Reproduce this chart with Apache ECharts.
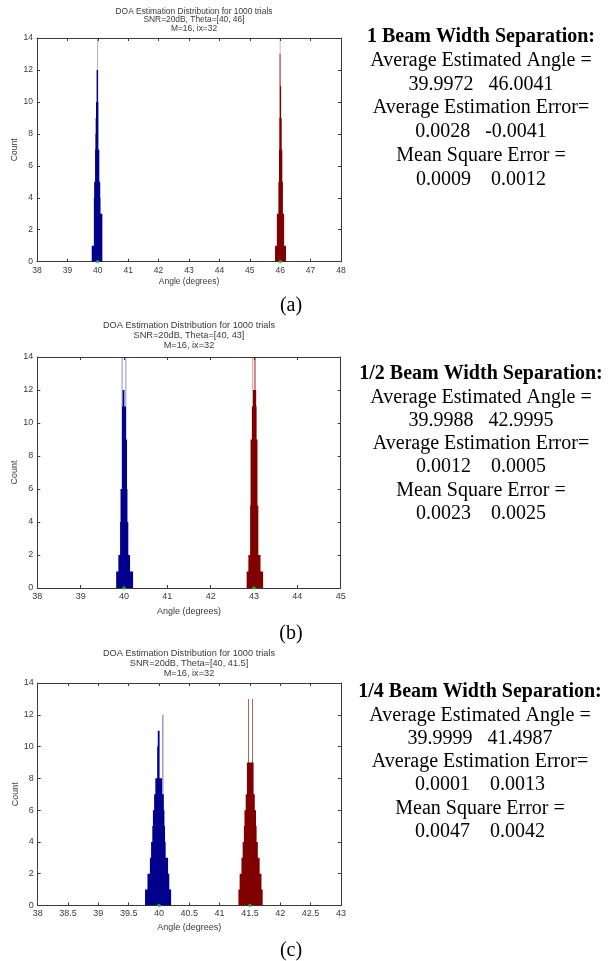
<!DOCTYPE html>
<html><head><meta charset="utf-8">
<script src="https://cdn.jsdelivr.net/npm/echarts@6/dist/echarts.min.js"></script>
<style>html,body{margin:0;padding:0;background:#fff;}#c{width:610px;height:961px;}</style>
</head><body><div id="c"></div>
<script>
// ---------- data ----------
const binWidth = 0.01;

// panel (a): Theta = [40, 46]
const aXRange = [38, 48, 1];
const aTheta = [40, 46];
const aBlueStart = 39.80;
const aBlueCounts = [1,1,1,1,1,1,1,4,5,5,5,7,8,9,10,10,12,12,12,20,12,10,7,7,7,5,5,5,4,3,3,3,3,3,3];
const aRedStart = 45.83;
const aRedCounts = [1,1,1,1,1,1,3,3,3,3,3,5,5,7,9,13,18,13,11,11,9,9,7,7,5,5,3,3,3,3,1,1,1,1,1,1];

// panel (b): Theta = [40, 43]
const bXRange = [38, 45, 1];
const bTheta = [40, 43];
const bBlueStart = 39.82;
const bBlueCounts = [1,1,1,1,1,2,2,2,2,4,6,6,6,16,11,12,12,12,12,11,11,11,16,9,9,6,4,4,2,2,2,2,1,1,1,1,1,1,1];
const bRedStart = 42.83;
const bRedCounts = [1,1,1,1,2,2,2,2,5,9,9,9,11,11,15,12,12,16,12,12,15,12,11,9,9,5,5,2,2,2,2,2,1,1,1,1,1,1];

// panel (c): Theta = [40, 41.5]
const cXRange = [38, 43, 0.5];
const cTheta = [40, 41.5];
const cBlueStart = 39.77;
const cBlueCounts = [1,1,1,1,2,2,2,2,3,3,4,4,5,6,6,7,7,8,8,8,10,11,11,11,8,8,8,8,7,12,7,6,5,4,3,3,3,3,2,2,1,1,1];
const cRedStart = 41.31;
const cRedCounts = [1,1,2,2,2,3,3,4,4,5,6,6,7,7,9,9,13,9,9,9,9,9,9,13,9,7,7,6,6,5,4,4,3,3,3,2,2,2,1,1];

const yRange = [0, 14, 2];

const chartTitles = [
  ['DOA Estimation Distribution for 1000 trials', 'SNR=20dB, Theta=[40, 46]', 'M=16, ix=32'],
  ['DOA Estimation Distribution for 1000 trials', 'SNR=20dB, Theta=[40, 43]', 'M=16, ix=32'],
  ['DOA Estimation Distribution for 1000 trials', 'SNR=20dB, Theta=[40, 41.5]', 'M=16, ix=32']
];
const panelLetters = ['(a)', '(b)', '(c)'];
const statHeadings = ['1 Beam Width Separation:', '1/2 Beam Width Separation:', '1/4 Beam Width Separation:'];
const statLines = [
  ['Average Estimated Angle =', '39.9972   46.0041', 'Average Estimation Error=', '0.0028   -0.0041', 'Mean Square Error =', '0.0009    0.0012'],
  ['Average Estimated Angle =', '39.9988   42.9995', 'Average Estimation Error=', '0.0012    0.0005', 'Mean Square Error =', '0.0023    0.0025'],
  ['Average Estimated Angle =', '39.9999   41.4987', 'Average Estimation Error=', '0.0001    0.0013', 'Mean Square Error =', '0.0047    0.0042']
];

// ---------- layout ----------
const panels = [
  {grid:{left:37, top:38, width:304, height:223.7}, xr:aXRange, theta:aTheta,
   blue:[aBlueStart,aBlueCounts], red:[aRedStart,aRedCounts], fs:8.5, nameGapX:15, nameGapY:12,
   titleX:194, titleY:[11.7,20,28.3], titleFs:8.4, letterY:306, statX:481, statY0:36.5, statDy:23.9},
  {grid:{left:37.3, top:357, width:303.4, height:231}, xr:bXRange, theta:bTheta,
   blue:[bBlueStart,bBlueCounts], red:[bRedStart,bRedCounts], fs:9, nameGapX:19, nameGapY:17,
   titleX:189, titleY:[325,335,345], titleFs:9.2, letterY:634, statX:481, statY0:374, statDy:23.3},
  {grid:{left:37.7, top:683, width:303.2, height:222.5}, xr:cXRange, theta:cTheta,
   blue:[cBlueStart,cBlueCounts], red:[cRedStart,cRedCounts], fs:9, nameGapX:18, nameGapY:17,
   titleX:189, titleY:[653.3,663.3,673.3], titleFs:9.2, letterY:951, statX:480, statY0:692, statDy:23.3}
];

const axisColor = '#3a3a3a';
const textColor = '#3a3a3a';
const sans = 'Liberation Sans, Arial, sans-serif';
const serif = 'Liberation Serif, Times New Roman, serif';
const blueColor = '#00008c';
const redColor = '#800000';

function binRows(start, counts) {
  return counts.map((c, i) => [start + i * binWidth, start + (i + 1) * binWidth, c]);
}

function renderEnvelope(params, api) {
  if (params.dataIndexInside !== 0) return null;
  const n = params.dataInsideLength;
  const pts = [];
  pts.push(api.coord([api.value(0, 0), 0]));
  for (let j = 0; j < n; j++) {
    const x0 = api.value(0, j), x1 = api.value(1, j), c = api.value(2, j);
    pts.push(api.coord([x0, c]));
    pts.push(api.coord([x1, c]));
  }
  pts.push(api.coord([api.value(1, n - 1), 0]));
  return {type:'polygon', shape:{points:pts}, style:{fill:api.visual('color'), stroke:null}};
}

const grids = [], xAxes = [], yAxes = [], series = [], graphics = [];

panels.forEach((p, g) => {
  grids.push(Object.assign({containLabel:false}, p.grid));
  const common = {
    gridIndex:g, type:'value',
    axisLine:{show:true, onZero:false, lineStyle:{color:axisColor, width:1}},
    axisTick:{show:true, inside:true, length:3, lineStyle:{color:axisColor, width:1}},
    splitLine:{show:false}
  };
  xAxes.push(Object.assign({}, common, {
    position:'bottom', min:p.xr[0], max:p.xr[1], interval:p.xr[2],
    axisLabel:{show:true, color:textColor, fontFamily:sans, fontSize:p.fs, margin:4},
    name:'Angle (degrees)', nameLocation:'middle', nameGap:p.nameGapX,
    nameTextStyle:{color:textColor, fontFamily:sans, fontSize:p.fs}
  }));
  xAxes.push(Object.assign({}, common, {
    position:'top', min:p.xr[0], max:p.xr[1], interval:p.xr[2], axisLabel:{show:false}
  }));
  yAxes.push(Object.assign({}, common, {
    position:'left', min:yRange[0], max:yRange[1], interval:yRange[2],
    axisLabel:{show:true, color:textColor, fontFamily:sans, fontSize:p.fs, margin:4},
    name:'Count', nameLocation:'middle', nameGap:p.nameGapY,
    nameTextStyle:{color:textColor, fontFamily:sans, fontSize:p.fs}
  }));
  yAxes.push(Object.assign({}, common, {
    position:'right', min:yRange[0], max:yRange[1], interval:yRange[2], axisLabel:{show:false}
  }));

  [[p.blue, blueColor], [p.red, redColor]].forEach(([d, col]) => {
    series.push({
      type:'custom', xAxisIndex:2*g, yAxisIndex:2*g, clip:true, silent:true,
      renderItem:renderEnvelope, itemStyle:{color:col},
      encode:{x:[0,1], y:2},
      data:binRows(d[0], d[1])
    });
  });
  series.push({
    type:'scatter', xAxisIndex:2*g, yAxisIndex:2*g, symbol:'circle', symbolSize:3.5,
    itemStyle:{color:'#22cc22'}, silent:true, z:5,
    data:p.theta.map(t => [t, 0])
  });

  p.titleY.forEach((y, k) => {
    graphics.push({type:'text', x:p.titleX, y:y, silent:true,
      style:{text:chartTitles[g][k], fill:textColor, font:p.titleFs + 'px ' + sans,
             align:'center', verticalAlign:'middle', textAlign:'center', textVerticalAlign:'middle'}});
  });
  graphics.push({type:'text', x:291, y:p.letterY, silent:true,
    style:{text:panelLetters[g], fill:'#000', font:'20px ' + serif,
           align:'center', verticalAlign:'middle', textAlign:'center', textVerticalAlign:'middle'}});
  graphics.push({type:'text', x:p.statX, y:p.statY0, silent:true,
    style:{text:statHeadings[g], fill:'#000', font:'bold 20px ' + serif,
           align:'center', verticalAlign:'middle', textAlign:'center', textVerticalAlign:'middle'}});
  statLines[g].forEach((t, k) => {
    graphics.push({type:'text', x:p.statX, y:p.statY0 + (k + 1) * p.statDy, silent:true,
      style:{text:t, fill:'#000', font:'20px ' + serif,
             align:'center', verticalAlign:'middle', textAlign:'center', textVerticalAlign:'middle'}});
  });
});

const chart = echarts.init(document.getElementById('c'), null, {renderer:'canvas'});
chart.setOption({
  animation:false,
  backgroundColor:'#ffffff',
  grid:grids, xAxis:xAxes, yAxis:yAxes, series:series, graphic:graphics
});
</script></body></html>
